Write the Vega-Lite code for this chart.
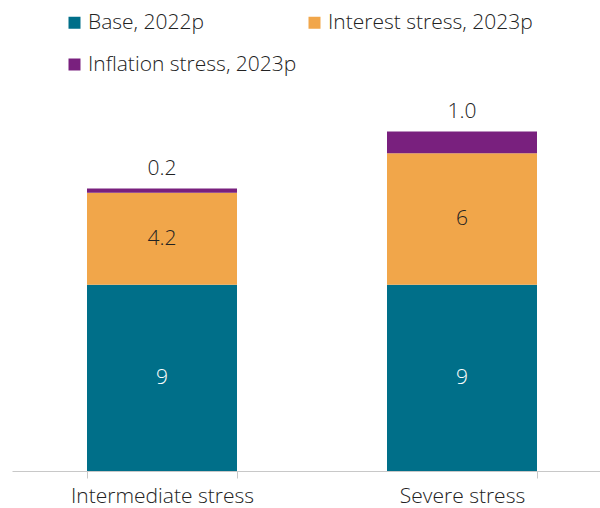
{
  "$schema": "https://vega.github.io/schema/vega-lite/v6.json",
  "width": 588,
  "height": 471,
  "autosize": {"type": "none"},
  "padding": {"left": 12, "top": 0, "right": 0, "bottom": 37},
  "background": "white",
  "config": {
    "view": {"stroke": null},
    "font": "Open Sans",
    "text": {"font": "Open Sans", "fontWeight": 300, "fontSize": 21}
  },
  "data": {
    "values": [
      {"cat": "Intermediate stress", "series": "Base, 2022p", "value": 8.5, "label": "9", "ord": 1},
      {"cat": "Intermediate stress", "series": "Interest stress, 2023p", "value": 4.2, "label": "4.2", "ord": 2},
      {"cat": "Intermediate stress", "series": "Inflation stress, 2023p", "value": 0.2, "label": "0.2", "ord": 3},
      {"cat": "Severe stress", "series": "Base, 2022p", "value": 8.5, "label": "9", "ord": 1},
      {"cat": "Severe stress", "series": "Interest stress, 2023p", "value": 6.0, "label": "6", "ord": 2},
      {"cat": "Severe stress", "series": "Inflation stress, 2023p", "value": 1.0, "label": "1.0", "ord": 3}
    ]
  },
  "encoding": {
    "x": {
      "field": "cat",
      "type": "nominal",
      "sort": ["Intermediate stress", "Severe stress"],
      "scale": {"range": [0, 600], "paddingInner": 0.5, "paddingOuter": 0.25},
      "axis": {
        "title": null,
        "labelAngle": 0,
        "domainColor": "#c8c8c8",
        "tickColor": "#c8c8c8",
        "tickBand": "extent",
        "tickSize": 7,
        "labelPadding": 7,
        "labelFont": "Open Sans",
        "labelFontWeight": 300,
        "labelFontSize": 21,
        "labelColor": "#222222",
        "labelLimit": 400
      }
    },
    "y": {
      "field": "value",
      "type": "quantitative",
      "stack": "zero",
      "scale": {"domain": [0, 21.5], "nice": false},
      "axis": null
    },
    "order": {"field": "ord", "type": "quantitative"}
  },
  "layer": [
    {
      "mark": {"type": "bar"},
      "encoding": {
        "color": {
          "field": "series",
          "type": "nominal",
          "scale": {
            "domain": ["Base, 2022p", "Interest stress, 2023p", "Inflation stress, 2023p"],
            "range": ["#006F89", "#F1A64A", "#79207E"]
          },
          "legend": {
            "orient": "none",
            "legendX": 52,
            "legendY": 12,
            "columns": 2,
            "direction": "horizontal",
            "title": null,
            "symbolType": "square",
            "symbolSize": 144,
            "symbolStrokeWidth": 0,
            "labelFont": "Open Sans",
            "labelFontWeight": 300,
            "labelFontSize": 21,
            "labelColor": "#222222",
            "labelLimit": 400,
            "rowPadding": 20,
            "columnPadding": 7,
            "labelOffset": 3
          }
        }
      }
    },
    {
      "mark": {"type": "text", "baseline": "middle", "align": "center"},
      "encoding": {
        "y": {"field": "value", "type": "quantitative", "stack": "zero", "bandPosition": 0.5},
        "text": {"condition": {"test": "datum.ord < 3", "field": "label"}, "value": ""},
        "color": {"condition": {"test": "datum.ord == 1", "value": "#ffffff"}, "value": "#222222"}
      }
    },
    {
      "mark": {"type": "text", "baseline": "middle", "align": "center", "dy": -19, "color": "#222222"},
      "encoding": {
        "text": {"condition": {"test": "datum.ord == 3", "field": "label"}, "value": ""}
      }
    }
  ]
}
